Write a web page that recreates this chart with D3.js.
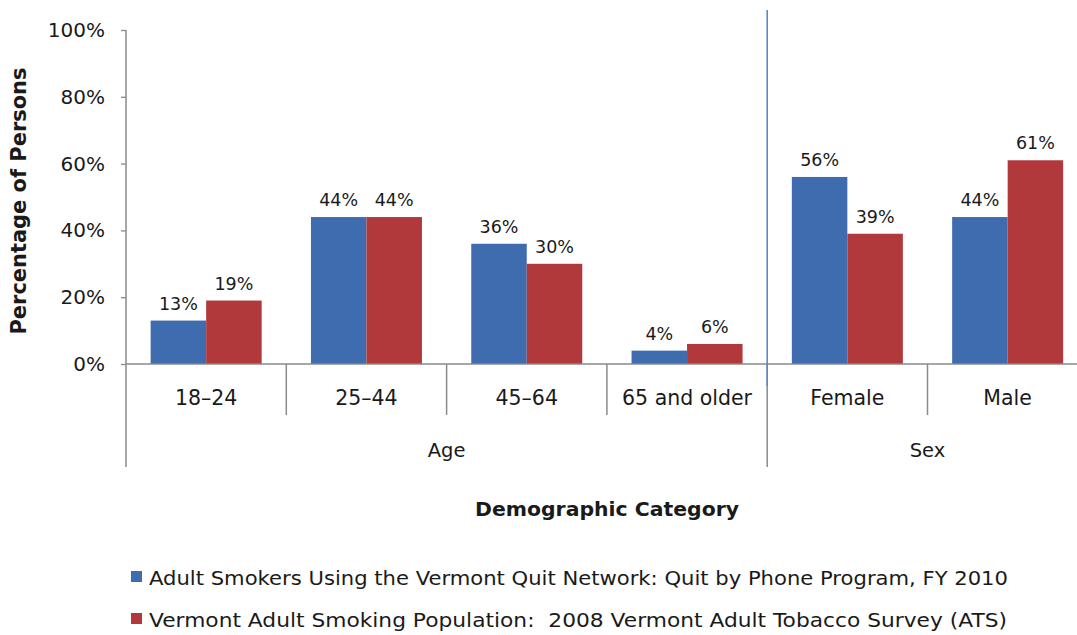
<!DOCTYPE html>
<html>
<head>
<meta charset="utf-8">
<script src="https://cdn.jsdelivr.net/npm/d3@7"></script>
<style>
  html, body { margin: 0; padding: 0; background: #fff; }
  svg { display: block; }
  text { font-family: "DejaVu Sans", Verdana, sans-serif; fill: #1a1a1a; }
</style>
</head>
<body>
<svg id="chart" width="1077" height="635"></svg>
<script>
// ---- data ----
const categories = ["18–24", "25–44", "45–64", "65 and older", "Female", "Male"];
const groups = ["Age", "Age", "Age", "Age", "Sex", "Sex"];
const seriesNames = [
  "Adult Smokers Using the Vermont Quit Network: Quit by Phone Program, FY 2010",
  "Vermont Adult Smoking Population:  2008 Vermont Adult Tobacco Survey (ATS)"
];
const quitNetwork = [13, 44, 36, 4, 56, 44];
const atsPopulation = [19, 44, 30, 6, 39, 61];
const yTicks = [0, 20, 40, 60, 80, 100];
const colors = ["#3f6baf", "#b1393c"];

// ---- layout ----
const svg = d3.select("#chart");
const x0 = 126, catW = 160.3;
const yTop = 30, yZero = 364;

const x = d3.scaleBand().domain(categories).range([x0, x0 + catW * categories.length]).paddingInner(0).paddingOuter(0);
const xs = d3.scaleBand().domain([0, 1]).range([0, x.bandwidth()]).paddingInner(0).paddingOuter(0.444);
const y = d3.scaleLinear().domain([0, 100]).range([yZero, yTop]);

const seriesVals = [quitNetwork, atsPopulation];
const rows = categories.map((c, i) => ({ cat: c, vals: seriesVals.map(s => s[i]) }));

// bars
const g = svg.append("g");
const cg = g.selectAll("g.cat").data(rows).join("g").attr("class", "cat")
  .attr("transform", d => `translate(${x(d.cat)},0)`);
cg.selectAll("rect").data(d => d.vals.map((v, k) => ({ v, k }))).join("rect")
  .attr("x", d => xs(d.k))
  .attr("width", xs.bandwidth())
  .attr("y", d => y(d.v))
  .attr("height", d => y(0) - y(d.v))
  .attr("fill", d => colors[d.k]);
cg.selectAll("text.lbl").data(d => d.vals.map((v, k) => ({ v, k }))).join("text").attr("class", "lbl")
  .attr("x", d => xs(d.k) + xs.bandwidth() / 2)
  .attr("y", d => y(d.v) - 11)
  .attr("text-anchor", "middle")
  .style("font-size", "17.5px")
  .text(d => d.v + "%");

// y axis
const yAxis = d3.axisLeft(y).tickValues(yTicks).tickFormat(d => d + "%").tickSize(5).tickSizeOuter(0).tickPadding(16);
const ya = svg.append("g").attr("transform", `translate(${x0},0)`).call(yAxis);
ya.select(".domain").remove();
ya.selectAll(".tick line").attr("stroke", "#8a8a8a").attr("stroke-width", 1.3);
ya.selectAll(".tick text").style("font-size", "20px").style("font-family", "DejaVu Sans, Verdana, sans-serif").attr("fill", "#1a1a1a");

const axisColor = "#8a8a8a";
// y axis line (extends down through the category label rows)
svg.append("line").attr("x1", x0).attr("x2", x0).attr("y1", y(100)).attr("y2", 467)
  .attr("stroke", axisColor).attr("stroke-width", 1.5);
// x axis baseline
svg.append("line").attr("x1", x0).attr("x2", 1077).attr("y1", y(0)).attr("y2", y(0))
  .attr("stroke", axisColor).attr("stroke-width", 1.5);

// category separators
categories.forEach((c, i) => {
  if (i === 0) return;
  const xb = x(c);
  const isGroupBoundary = groups[i] !== groups[i - 1];
  svg.append("line").attr("x1", xb).attr("x2", xb).attr("y1", y(0)).attr("y2", isGroupBoundary ? 467 : 415)
    .attr("stroke", axisColor).attr("stroke-width", 1.5);
});

// category labels
svg.append("g").selectAll("text").data(categories).join("text")
  .attr("x", d => x(d) + x.bandwidth() / 2)
  .attr("y", 405)
  .attr("text-anchor", "middle")
  .style("font-size", "20.5px")
  .text(d => d);

// group labels
const groupNames = Array.from(new Set(groups));
groupNames.forEach(gn => {
  const idx = groups.map((g, i) => g === gn ? i : -1).filter(i => i >= 0);
  const xa = x(categories[idx[0]]);
  const xbEnd = x(categories[idx[idx.length - 1]]) + x.bandwidth();
  svg.append("text").attr("x", (xa + xbEnd) / 2).attr("y", 457)
    .attr("text-anchor", "middle").style("font-size", "19.5px").text(gn);
});

// blue vertical divider between groups
const divX = x(categories[groups.indexOf("Sex")]);
svg.append("line").attr("x1", divX).attr("x2", divX).attr("y1", 10).attr("y2", 386)
  .attr("stroke", "#5f88cc").attr("stroke-width", 1.6);

// axis titles
svg.append("text")
  .attr("transform", `translate(26,201) rotate(-90)`)
  .attr("text-anchor", "middle")
  .attr("textLength", 267).attr("lengthAdjust", "spacingAndGlyphs")
  .style("font-size", "20.5px").style("font-weight", "bold")
  .text("Percentage of Persons");
svg.append("text").attr("x", 607).attr("y", 516)
  .attr("text-anchor", "middle")
  .attr("textLength", 264).attr("lengthAdjust", "spacingAndGlyphs")
  .style("font-size", "20px").style("font-weight", "bold")
  .text("Demographic Category");

// legend
const lg = svg.append("g");
seriesNames.forEach((name, k) => {
  const ly = 585 + k * 42;
  lg.append("rect").attr("x", 131).attr("y", ly - 14).attr("width", 11).attr("height", 11).attr("fill", colors[k]);
  lg.append("text").attr("x", 149).attr("y", ly).style("font-size", "19px")
    .attr("xml:space", "preserve").style("white-space", "pre")
    .attr("textLength", k === 0 ? 859 : 858).attr("lengthAdjust", "spacingAndGlyphs")
    .text(name);
});
</script>
</body>
</html>
